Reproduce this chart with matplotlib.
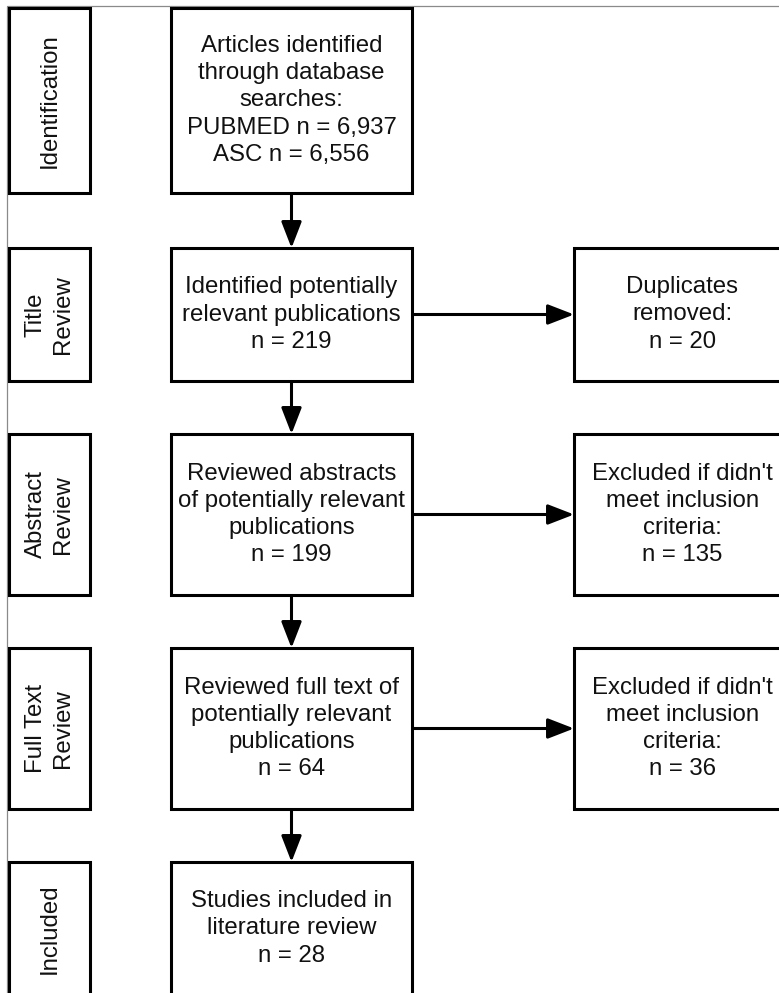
import matplotlib
matplotlib.use("Agg")
import matplotlib.pyplot as plt
from matplotlib.patches import Rectangle

# ── Flowchart content ────────────────────────────────────────────────────────
stage_labels = ["Identification", "Title\nReview", "Abstract\nReview",
                "Full Text\nReview", "Included"]
main_desc = ["Articles identified\nthrough database\nsearches:",
             "Identified potentially\nrelevant publications",
             "Reviewed abstracts\nof potentially relevant\npublications",
             "Reviewed full text of\npotentially relevant\npublications",
             "Studies included in\nliterature review"]
main_counts = [None, 219, 199, 64, 28]
db_names = ["PUBMED", "ASC"]
db_counts = [6937, 6556]
side_desc = [None, "Duplicates\nremoved:",
             "Excluded if didn't\nmeet inclusion\ncriteria:",
             "Excluded if didn't\nmeet inclusion\ncriteria:", None]
side_counts = [None, 20, 135, 36, None]

# ── Layout (pixel units) ─────────────────────────────────────────────────────
W, H = 779, 993
row_top = [8, 248, 434, 648, 862]
row_bot = [193, 381, 595, 809, 995]
lab_x0, lab_x1 = 9, 90
main_x0, main_x1 = 171, 412
side_x0, side_x1 = 574, 791
LW = 2.2
FS = 17.3
FONT = "Liberation Sans"

fig = plt.figure(figsize=(W / 100, H / 100), dpi=100)
ax = fig.add_axes([0, 0, 1, 1])
ax.set_xlim(0, W)
ax.set_ylim(H, 0)
ax.axis("off")

# thin outer frame
ax.add_patch(Rectangle((7, 6), W + 50, H + 50, fill=False,
                       edgecolor="#8a8a8a", lw=0.9))


def box(x0, x1, y0, y1, text, rot=0):
    ax.add_patch(Rectangle((x0, y0), x1 - x0, y1 - y0, facecolor="white",
                           edgecolor="black", lw=LW, zorder=2))
    ax.text((x0 + x1) / 2, (y0 + y1) / 2, text, ha="center", va="center",
            rotation=rot, fontsize=FS, family=FONT, color="#111111",
            linespacing=1.31, zorder=3, rotation_mode="anchor")


def arrow(x0, y0, x1, y1):
    ax.annotate("", xy=(x1, y1), xytext=(x0, y0),
                arrowprops=dict(arrowstyle="-|>,head_length=1.6,head_width=0.62",
                                mutation_scale=10, lw=LW, color="black",
                                shrinkA=0, shrinkB=0), zorder=1)


for i, lab in enumerate(stage_labels):
    y0, y1 = row_top[i], row_bot[i]
    box(lab_x0, lab_x1, y0, y1, lab, rot=90)

    if i == 0:
        txt = main_desc[i] + "\n" + "\n".join(
            f"{nm} n = {c:,}" for nm, c in zip(db_names, db_counts))
    else:
        txt = f"{main_desc[i]}\nn = {main_counts[i]}"
    box(main_x0, main_x1, y0, y1, txt)

    if side_desc[i] is not None:
        box(side_x0, side_x1, y0, y1, f"{side_desc[i]}\nn = {side_counts[i]}")
        ym = (y0 + y1) / 2
        arrow(main_x1, ym, side_x0, ym)

    if i < len(stage_labels) - 1:
        xm = (main_x0 + main_x1) / 2
        arrow(xm, y1, xm, row_top[i + 1])

fig.savefig("out.png", dpi=100)
